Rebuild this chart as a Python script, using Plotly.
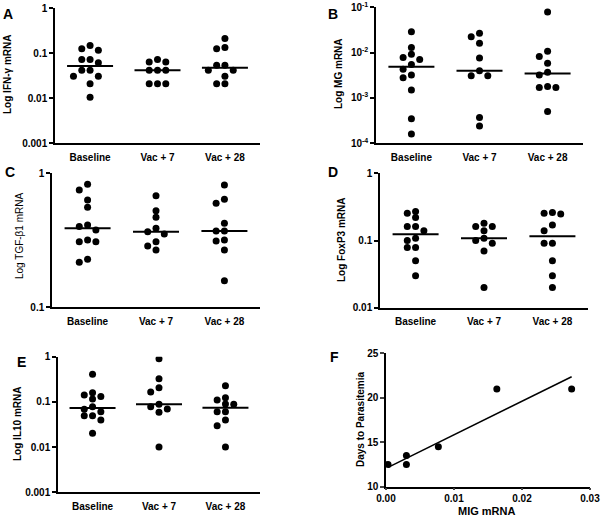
import numpy as np
import plotly.graph_objects as go

W, H = 603, 518

groups = ["Baseline", "Vac + 7", "Vac + 28"]

# Panel A: IFN-gamma mRNA
ifn_baseline = [0.15, 0.127, 0.117, 0.073, 0.073, 0.062, 0.042, 0.042, 0.031, 0.031, 0.021, 0.0105]
ifn_vac7 = [0.073, 0.064, 0.064, 0.042, 0.042, 0.042, 0.021, 0.021, 0.021]
ifn_vac28 = [0.213, 0.134, 0.127, 0.054, 0.054, 0.042, 0.042, 0.031, 0.021, 0.021]

# Panel B: MIG mRNA
mig_baseline = [0.029, 0.0129, 0.0092, 0.0078, 0.0071, 0.0055, 0.0043, 0.0032, 0.0028, 0.0015, 0.00035, 0.00016]
mig_vac7 = [0.0267, 0.0225, 0.0161, 0.0076, 0.0040, 0.0031, 0.0031, 0.00037, 0.00024]
mig_vac28 = [0.079, 0.0107, 0.0082, 0.0058, 0.0037, 0.0032, 0.0018, 0.0017, 0.0017, 0.0005]

# Panel C: TGF-beta1 mRNA
tgf_baseline = [0.828, 0.751, 0.632, 0.557, 0.411, 0.40, 0.378, 0.318, 0.309, 0.309, 0.228, 0.217]
tgf_vac7 = [0.681, 0.526, 0.469, 0.389, 0.367, 0.353, 0.309, 0.287, 0.268]
tgf_vac28 = [0.818, 0.64, 0.597, 0.424, 0.371, 0.371, 0.318, 0.313, 0.268, 0.158]

# Panel D: FoxP3 mRNA
foxp3_baseline = [0.269, 0.254, 0.219, 0.161, 0.161, 0.14, 0.108, 0.10, 0.079, 0.079, 0.05, 0.03]
foxp3_vac7 = [0.18, 0.161, 0.161, 0.14, 0.108, 0.10, 0.091, 0.07, 0.02]
foxp3_vac28 = [0.26, 0.254, 0.248, 0.17, 0.14, 0.091, 0.091, 0.05, 0.03, 0.02]

# Panel E: IL10 mRNA
il10_baseline = [0.407, 0.16, 0.142, 0.131, 0.116, 0.0785, 0.0685, 0.0608, 0.0496, 0.0496, 0.0398, 0.0202]
il10_vac7 = [0.90, 0.326, 0.206, 0.166, 0.0883, 0.0785, 0.0697, 0.0588, 0.0101]
il10_vac28 = [0.229, 0.124, 0.110, 0.090, 0.0883, 0.0608, 0.0608, 0.0398, 0.0298, 0.0101]

# Panel F: MIG mRNA vs days to parasitemia
mig_mrna = [0.0003, 0.003, 0.003, 0.0077, 0.0163, 0.0273]
days_to_parasitemia = [12.5, 13.5, 12.5, 14.5, 21, 21]
fit_slope = 378.0
fit_intercept = 12.05

# ---------------------------------------------------------------------
def px(x):
    return x / W

def py(y):
    return 1 - y / H

# pixel boxes of each plotting area: (x0, x1, ytop, ybottom)
boxes = {
    "A": (55, 260, 8.3, 143.3),
    "B": (376, 583, 7.3, 143.3),
    "C": (52, 260, 173.3, 307.3),
    "D": (380, 588, 173.3, 307.7),
    "E": (58, 260, 356.7, 492.3),
    "F": (386, 590, 353.3, 486.7),
}

fig = go.Figure()
layout = dict(
    width=W, height=H, margin=dict(l=0, r=0, t=0, b=0, autoexpand=False),
    paper_bgcolor="white", plot_bgcolor="white", showlegend=False,
    font=dict(family="Liberation Sans, Arial, sans-serif", color="black", size=10),
    annotations=[],
)

XR = [-0.52, 2.52]
DOT = 7
SPACE_PX = 8.3
THR_PX = 6.0


def swarm_offsets(values, ppd, xpx_per_unit):
    placed = []
    offs = []
    for v in values:
        ypix = np.log10(v) * ppd
        for k in [0, -1, 1, -2, 2, -3, 3]:
            ok = all(abs(ypix - yy) >= THR_PX for (kk, yy) in placed if kk == k)
            if ok:
                placed.append((k, ypix))
                offs.append(k * SPACE_PX / xpx_per_unit)
                break
    return offs


def dot_panel(idx, key, series, yrange, tickvals, ticktext):
    x0, x1, yt, yb = boxes[key]
    xa = "xaxis" if idx == 1 else f"xaxis{idx}"
    ya = "yaxis" if idx == 1 else f"yaxis{idx}"
    xr = "x" if idx == 1 else f"x{idx}"
    yr = "y" if idx == 1 else f"y{idx}"
    ppd = (yb - yt) / (yrange[1] - yrange[0])
    xpu = (x1 - x0) / (XR[1] - XR[0])
    for gi, vals in enumerate(series):
        offs = swarm_offsets(vals, ppd, xpu)
        fig.add_trace(go.Scatter(
            x=[gi + o for o in offs], y=vals, mode="markers", xaxis=xr, yaxis=yr,
            marker=dict(color="black", size=DOT), hoverinfo="skip"))
        med = float(np.median(vals))
        half = 23.0 / xpu
        fig.add_trace(go.Scatter(
            x=[gi - half, gi + half], y=[med, med], mode="lines", xaxis=xr, yaxis=yr,
            line=dict(color="black", width=2), hoverinfo="skip"))
    layout[xa] = dict(
        domain=[px(x0), px(x1)], anchor=yr, range=XR, showgrid=False, zeroline=False,
        automargin=False,
        showline=True, linecolor="black", linewidth=1.5, ticks="",
        tickvals=[0, 1, 2], ticktext=[f"<b>{g}</b>" for g in groups],
        tickfont=dict(size=10), ticklabelstandoff=4)
    layout[ya] = dict(
        domain=[py(yb), py(yt)], anchor=xr, type="log", range=yrange, showgrid=False,
        zeroline=False, showline=True, linecolor="black", linewidth=1.5, automargin=False,
        ticks="outside", ticklen=4, tickwidth=1.5, tickcolor="black",
        tickvals=tickvals, ticktext=ticktext, tickfont=dict(size=10))


def b(s):
    return f"<b>{s}</b>"

dot_panel(1, "A", [ifn_baseline, ifn_vac7, ifn_vac28], [-3, 0],
          [0.001, 0.01, 0.1, 1], [b("0.001"), b("0.01"), b("0.1"), b("1")])
dot_panel(2, "B", [mig_baseline, mig_vac7, mig_vac28], [-4, -1],
          [1e-4, 1e-3, 1e-2, 1e-1],
          [b("10<sup>-4</sup>"), b("10<sup>-3</sup>"), b("10<sup>-2</sup>"), b("10<sup>-1</sup>")])
dot_panel(3, "C", [tgf_baseline, tgf_vac7, tgf_vac28], [-1, 0],
          [0.1, 1], [b("0.1"), b("1")])
dot_panel(4, "D", [foxp3_baseline, foxp3_vac7, foxp3_vac28], [-2, 0],
          [0.01, 0.1, 1], [b("0.01"), b("0.1"), b("1")])
dot_panel(5, "E", [il10_baseline, il10_vac7, il10_vac28], [-3, 0],
          [0.001, 0.01, 0.1, 1], [b("0.001"), b("0.01"), b("0.1"), b("1")])

# Panel F
x0, x1, yt, yb = boxes["F"]
fig.add_trace(go.Scatter(x=mig_mrna, y=days_to_parasitemia, mode="markers", xaxis="x6", yaxis="y6",
                         marker=dict(color="black", size=DOT), hoverinfo="skip"))
fx = [min(mig_mrna), max(mig_mrna)]
fig.add_trace(go.Scatter(x=fx, y=[fit_intercept + fit_slope * v for v in fx], mode="lines",
                         xaxis="x6", yaxis="y6", line=dict(color="black", width=1.5), hoverinfo="skip"))
layout["xaxis6"] = dict(
    domain=[px(x0), px(x1)], anchor="y6", range=[0, 0.03], showgrid=False, zeroline=False,
    automargin=False,
    showline=True, linecolor="black", linewidth=1.5, ticks="outside", ticklen=2, tickwidth=1.5,
    tickvals=[0, 0.01, 0.02, 0.03], ticktext=[b("0.00"), b("0.01"), b("0.02"), b("0.03")],
    tickfont=dict(size=10))
layout["yaxis6"] = dict(
    domain=[py(yb), py(yt)], anchor="x6", range=[9.99, 25.01], showgrid=False, zeroline=False,
    automargin=False,
    showline=True, linecolor="black", linewidth=1.5, ticks="outside", ticklen=4, tickwidth=1.5,
    tickvals=[10, 15, 20, 25], ticktext=[b("10"), b("15"), b("20"), b("25")],
    tickfont=dict(size=10))

ann = layout["annotations"]

def text(x, y, s, size=10, angle=0):
    ann.append(dict(x=px(x), y=py(y), xref="paper", yref="paper", text=s, showarrow=False,
                    textangle=angle, font=dict(size=size, color="black"),
                    xanchor="center", yanchor="middle"))

# axis titles
text(7, 75, b("Log IFN-γ mRNA"), 10, -90)
text(339, 74, b("Log MG mRNA"), 10, -90)
text(19, 236, "Log TGF-β1 mRNA", 10, -90)
text(342, 240, b("Log FoxP3 mRNA"), 10, -90)
text(17, 424, b("Log IL10 mRNA"), 10, -90)
text(360, 419, b("Days to Parasitemia"), 10, -90)
text(487, 511, b("MIG mRNA"), 11, 0)

# panel letters
for lx, ly, lt in [(8, 14, "A"), (333, 14, "B"), (10, 172, "C"), (333, 172, "D"),
                   (21, 362, "E"), (334, 357, "F")]:
    text(lx, ly, b(lt), 14, 0)

fig.update_layout(**layout)
fig.write_html("out.html",
               config={"displayModeBar": False},
               post_script="document.body.style.margin='0';document.body.style.padding='0';"
                           "document.body.style.overflow='hidden';")
